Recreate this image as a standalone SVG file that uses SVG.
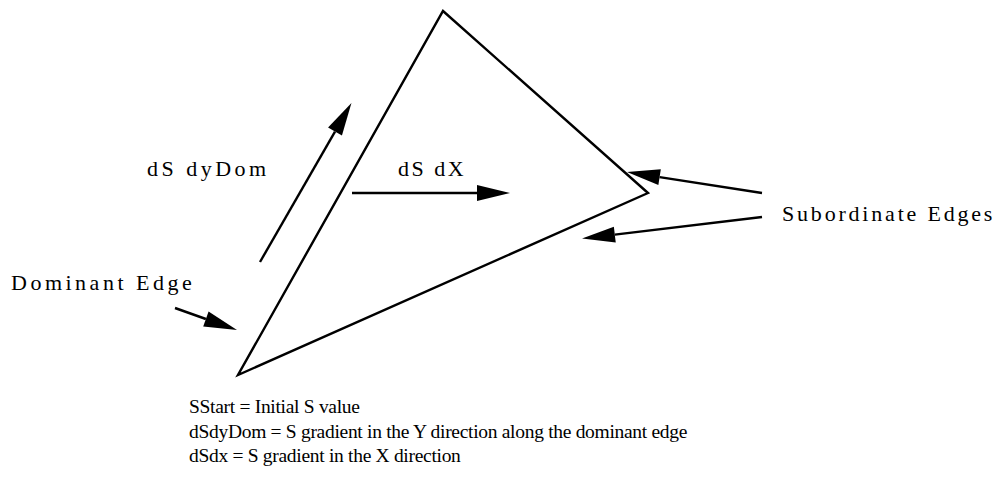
<svg xmlns="http://www.w3.org/2000/svg" width="1007" height="480" viewBox="0 0 1007 480">
<style>
.ln{stroke:#000;stroke-width:2.4;fill:none}
.lbl{font-family:"Liberation Serif","DejaVu Serif",serif;font-size:22px;fill:#000;letter-spacing:3.5px}
.note{font-family:"Liberation Serif","DejaVu Serif",serif;font-size:19.5px;fill:#000;letter-spacing:-0.3px}
</style>
<defs>
<marker id="ah" markerUnits="userSpaceOnUse" markerWidth="34" markerHeight="18" refX="0" refY="8" orient="auto" overflow="visible">
<path d="M0,0 L33,8 L0,16 z" fill="#000"/>
</marker>
</defs>
<rect width="1007" height="480" fill="#fff"/>
<g id="triangle">
<polygon class="ln" points="443,11 648,193 238,375" stroke-linejoin="miter"/>
</g>
<g id="connectors">
<line class="ln" x1="260" y1="262" x2="335" y2="131.6" marker-end="url(#ah)"/>
<line class="ln" x1="352" y1="193" x2="477" y2="193" marker-end="url(#ah)"/>
<line class="ln" x1="762" y1="193" x2="659.6" y2="177.1" marker-end="url(#ah)"/>
<line class="ln" x1="762" y1="217" x2="614.8" y2="234.6" marker-end="url(#ah)"/>
<line class="ln" x1="175" y1="308" x2="205.9" y2="319" marker-end="url(#ah)"/>
</g>
<g id="label-dsdydom"><text class="lbl" x="147" y="176">dS dyDom</text></g>
<g id="label-dsdx"><text class="lbl" x="398" y="176" style="letter-spacing:2.5px">dS dX</text></g>
<g id="label-subordinate"><text class="lbl" x="782" y="221" style="letter-spacing:2.8px">Subordinate Edges</text></g>
<g id="label-dominant"><text class="lbl" x="11" y="290">Dominant Edge</text></g>
<g id="legend">
<text class="note" x="189" y="413">SStart = Initial S value</text>
<text class="note" x="189" y="437.5">dSdyDom = S gradient in the Y direction along the dominant edge</text>
<text class="note" x="189" y="462">dSdx = S gradient in the X direction</text>
</g>
</svg>
